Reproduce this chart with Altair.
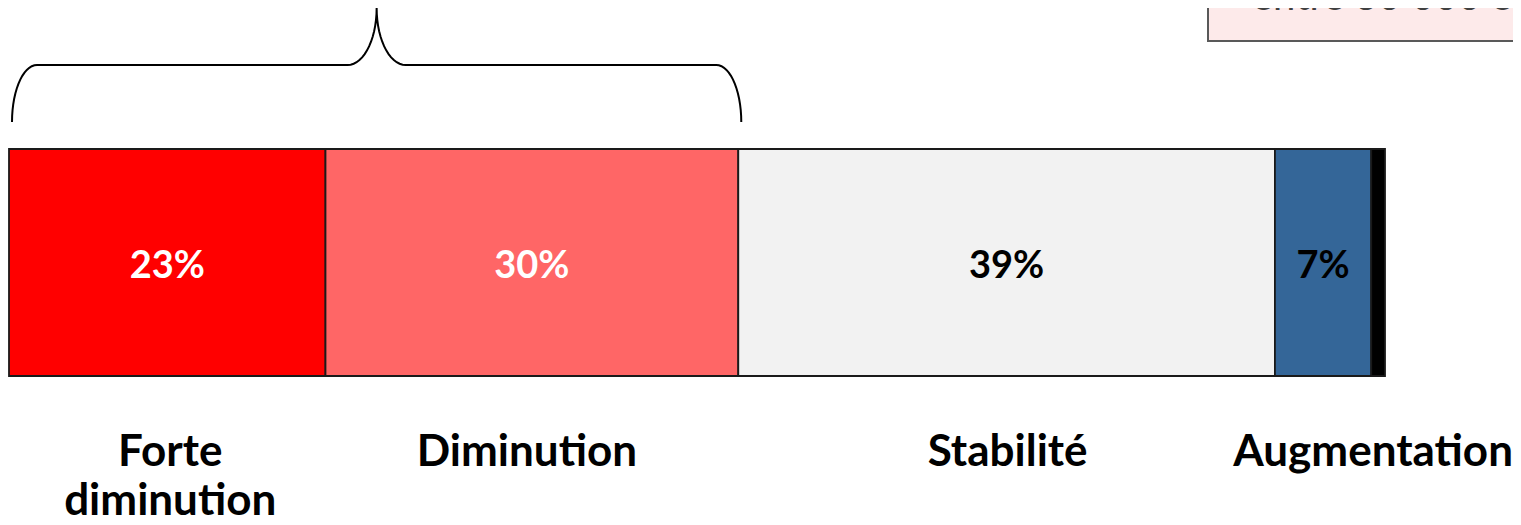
import altair as alt
import pandas as pd
import numpy as np

# ---------------- data ----------------
categories = ["Forte diminution", "Diminution", "Stabilité", "Augmentation", "Forte augmentation"]
values = [23, 30, 39, 7, 1]
value_labels = ["23%", "30%", "39%", "7%", ""]
axis_labels = ["Forte\ndiminution", "Diminution", "Stabilité", "Augmentation", ""]
note_text = "entre 30 000 et"

# ---------------- style / layout ----------------
colors = ["#FF0000", "#FF6666", "#F2F2F2", "#346698", "#000000"]
W, H = 1505, 509
X0, X1 = 1, 1377            # pixel extent of the 0..100 % scale
BAR_TOP, BAR_BOT = 141, 368
FONT = "Lato"
label_dx_px = {"Forte diminution": 3, "Diminution": -5, "Stabilité": 1, "Augmentation": 50}


def px_to_pct(px):
    return (px - X0) / (X1 - X0) * 100.0


def pct_to_px(p):
    return X0 + p / 100.0 * (X1 - X0)


df = pd.DataFrame({"cat": categories, "value": values,
                   "vlabel": value_labels, "alabel": axis_labels})
df["end"] = df["value"].cumsum()
df["start"] = df["end"] - df["value"]
df["mid"] = (df["start"] + df["end"]) / 2
df["lx"] = [m + label_dx_px.get(c, 0) / (X1 - X0) * 100 for m, c in zip(df["mid"], df["cat"])]
df["white"] = df["cat"].isin(["Forte diminution", "Diminution"])

xscale = alt.Scale(domain=[0, 100], range=[X0, X1])

bars = alt.Chart(df).mark_bar(stroke="#1A1A1A", strokeWidth=1.8).encode(
    x=alt.X("start:Q", scale=xscale, axis=None),
    x2="end:Q",
    y=alt.value(BAR_TOP),
    y2=alt.value(BAR_BOT),
    color=alt.Color("cat:N", scale=alt.Scale(domain=categories, range=colors), legend=None),
)

pct_text = alt.Chart(df).mark_text(font=FONT, fontWeight="bold", fontSize=38,
                                    baseline="middle", align="center").encode(
    x=alt.X("mid:Q", scale=xscale, axis=None),
    y=alt.value(259),
    text="vlabel:N",
    color=alt.condition("datum.white", alt.value("#FFFFFF"), alt.value("#000000")),
)

cat_text = alt.Chart(df).mark_text(font=FONT, fontWeight="bold", fontSize=44,
                                    baseline="alphabetic", align="center",
                                    lineBreak="\n", lineHeight=49, color="#000000").encode(
    x=alt.X("lx:Q", scale=xscale, axis=None),
    y=alt.value(458),
    text="alabel:N",
)

# ---- brace over the two "diminution" segments ----
left_px = pct_to_px(df["start"][0]) + 3
right_px = pct_to_px(df["end"][1]) + 3
peak_px = (left_px + right_px) / 2
y_bot, y_mid, y_top = 114, 57, 0
r_end, r_mid = 25, 29
t = np.linspace(0, np.pi / 2, 16)
pts = []
pts += list(zip(left_px + r_end * (1 - np.cos(t)), y_bot - (y_bot - y_mid) * np.sin(t)))
pts += list(zip(peak_px - r_mid + r_mid * np.sin(t), y_top + (y_mid - y_top) * np.cos(t)))
pts += list(zip(peak_px + r_mid - r_mid * np.sin(t[::-1]), y_top + (y_mid - y_top) * np.cos(t[::-1])))
pts += list(zip(right_px - r_end * (1 - np.cos(t[::-1])), y_bot - (y_bot - y_mid) * np.sin(t[::-1])))
brace_df = pd.DataFrame({"bx": [px_to_pct(p[0]) for p in pts],
                         "by": [p[1] for p in pts],
                         "i": list(range(len(pts)))})

brace = alt.Chart(brace_df).mark_line(color="#000000", strokeWidth=2).encode(
    x=alt.X("bx:Q", scale=xscale, axis=None),
    y=alt.Y("by:Q", scale=alt.Scale(domain=[0, H], range=[0, H]), axis=None),
    order="i:Q",
)

# ---- note box at top right (cut off in the original) ----
note_df = pd.DataFrame({"t": [note_text]})
note_box = alt.Chart(note_df).mark_rect(fill="#FDEAEA", stroke="#595959", strokeWidth=2).encode(
    x=alt.value(1200), x2=alt.value(W + 4), y=alt.value(-10), y2=alt.value(33),
)
note = alt.Chart(note_df).mark_text(font=FONT, fontSize=40, align="left",
                                     baseline="alphabetic", color="#404040").encode(
    x=alt.value(1244), y=alt.value(2), text="t:N",
)

chart = alt.layer(note_box, note, brace, bars, pct_text, cat_text).properties(
    width=W, height=H,
    autosize=alt.AutoSizeParams(type="none"),
    padding=0,
    background="#FFFFFF",
).configure_view(stroke=None)

chart.save("out.html", embed_options={"renderer": "svg", "actions": False})
